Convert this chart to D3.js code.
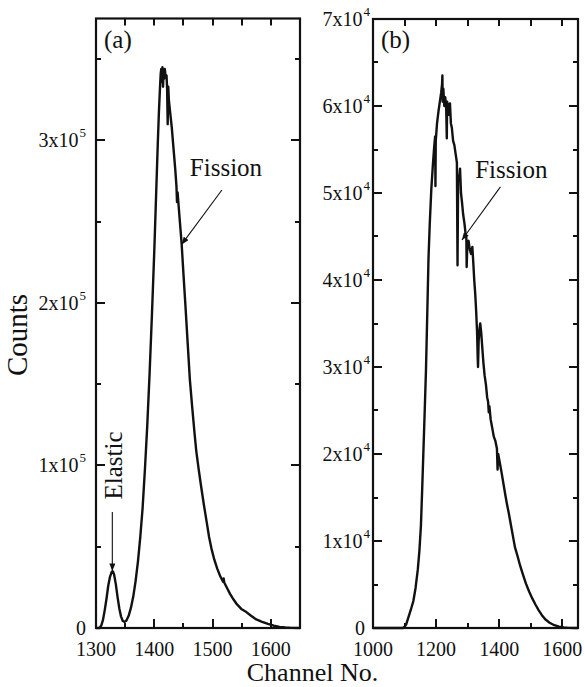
<!doctype html>
<html lang="en">
<head>
    <meta charset="UTF-8">
    <title>Counts vs Channel</title>
    <script src="https://d3js.org/d3.v7.min.js"></script>
    <style>
        body { margin: 0; background: white; }
        svg { display: block; }
        text { font-family: "Liberation Serif", "Times New Roman", serif; fill: #111; }
    </style>
</head>
<body>
    <svg width="585" height="687"></svg>

    <script>
        // panel (a)
        const chanA = [1300, 1306, 1309, 1312, 1315, 1318, 1321, 1324, 1327, 1329, 1331, 1334, 1337, 1340, 1343,
            1346, 1349, 1352, 1356, 1360, 1364, 1368, 1372, 1376, 1380, 1384, 1388, 1392, 1396, 1400, 1403, 1406,
            1408, 1410, 1411, 1412, 1413, 1414, 1415, 1416, 1417, 1418, 1419, 1420, 1421, 1422, 1423, 1424, 1425,
            1427, 1430, 1433, 1436, 1438, 1439, 1440, 1443, 1447, 1450, 1453, 1456, 1458, 1461, 1465, 1469, 1472,
            1476, 1480, 1485, 1490, 1494, 1498, 1503, 1508, 1513, 1518, 1519, 1520, 1525, 1530, 1536, 1542, 1550,
            1558, 1566, 1575, 1585, 1595, 1605, 1615, 1625, 1635, 1650];
        const countsA = [0, 0, 1500, 5000, 11000, 18000, 26000, 31500, 34500, 34800, 33000, 27000, 19000, 12000, 7000,
            4300, 3800, 4500, 7500, 12500, 19500, 29000, 41000, 56000, 74000, 98000, 125000, 157000, 193000, 232000, 265000, 298000,
            318000, 334000, 341000, 344000, 336000, 345000, 333000, 343000, 338000, 344000, 341000, 339000, 340000, 332000, 310000, 333000, 325000,
            318000, 308000, 295000, 282000, 272000, 262000, 268000, 254000, 236000, 218000, 201000, 183000, 171000, 153000, 136000, 120000, 109000,
            98000, 88000, 76000, 65000, 56000, 49000, 42000, 36500, 32000, 28500, 30500, 28000, 24500, 21000, 17500, 14500, 11500,
            9800, 7500, 5300, 3800, 2500, 1400, 700, 300, 100, 0];

        // panel (b)
        const chanB = [1000, 1095, 1100, 1105, 1112, 1120, 1128, 1135, 1142, 1147, 1152, 1156, 1160, 1164, 1168, 1172,
            1176, 1180, 1185, 1190, 1194, 1197, 1198, 1199, 1203, 1208, 1212, 1216, 1219, 1220, 1221, 1223, 1226, 1229,
            1232, 1234, 1235, 1238, 1241, 1244, 1247, 1250, 1254, 1258, 1262, 1266, 1268, 1270, 1273, 1276, 1279, 1282,
            1286, 1290, 1293, 1296, 1297, 1299, 1303, 1307, 1311, 1315, 1318, 1321, 1324, 1327, 1330, 1332, 1333, 1335,
            1338, 1340, 1343, 1346, 1350, 1354, 1358, 1362, 1365, 1367, 1369, 1373, 1378, 1383, 1388, 1393, 1395, 1397,
            1402, 1408, 1414, 1420, 1425, 1430, 1435, 1440, 1445, 1450, 1458, 1467, 1475, 1485, 1495, 1505, 1515, 1525,
            1535, 1546, 1560, 1575, 1590, 1605, 1620, 1640, 1650];
        const countsB = [0, 0, 150, 400, 1200, 2100, 3100, 4600, 6700, 8800, 11800, 16000, 20500, 25000, 29700, 36000,
            42500, 46500, 50500, 53300, 55300, 56500, 50800, 56000, 58000, 59500, 60500, 61500, 62500, 63500, 60500, 62000, 60000, 61000,
            60000, 56300, 60500, 60000, 59000, 60300, 58000, 57500, 56000, 55500, 54500, 53500, 41700, 52000, 51500, 52800, 50000, 49000,
            47500, 46500, 45500, 44800, 41500, 44000, 44500, 43500, 43000, 43800, 42000, 40000, 38500, 36500, 34000, 31000, 30000, 33000,
            34500, 35000, 34000, 32500, 30500, 29000, 28000, 26500, 26000, 24800, 25500, 24000, 23000, 22000, 21500, 20600, 18200, 20000,
            19000, 17800, 16500, 15200, 14200, 13300, 12300, 11300, 10300, 9300, 8300, 7100, 6200, 5100, 4200, 3400, 2700, 2050,
            1500, 1000, 600, 320, 150, 60, 20, 0, 0];

        // ticks
        const xTicksA = [1300, 1400, 1500, 1600];
        const xMinorA = [1350, 1450, 1550];
        const yTicksA = [0, 100000, 200000, 300000];
        const yLabelsA = ['0', '1x10^5', '2x10^5', '3x10^5'];
        const yMinorA = [50000, 150000, 250000, 350000];

        const xTicksB = [1000, 1200, 1400, 1600];
        const xMinorB = [1100, 1300, 1500];
        const yTicksB = [0, 10000, 20000, 30000, 40000, 50000, 60000, 70000];
        const yLabelsB = ['0', '1x10^4', '2x10^4', '3x10^4', '4x10^4', '5x10^4', '6x10^4', '7x10^4'];
        const yMinorB = [5000, 15000, 25000, 35000, 45000, 55000, 65000];

        const svg = d3.select('svg');

        svg.append('defs').append('marker')
            .attr('id', 'head')
            .attr('viewBox', '0 -4 10 8')
            .attr('refX', 10)
            .attr('refY', 0)
            .attr('markerUnits', 'userSpaceOnUse')
            .attr('markerWidth', 8)
            .attr('markerHeight', 6)
            .attr('orient', 'auto')
            .append('path')
            .attr('d', 'M0,-4L10,0L0,4Z')
            .attr('fill', '#111');

        const frameBottom = 628;

        function drawPanel(p) {
            const x = d3.scaleLinear().domain(p.xDomain).range([p.left, p.right]);
            const y = d3.scaleLinear().domain(p.yDomain).range([frameBottom, p.top]);
            const g = svg.append('g');

            // data line
            const pts = p.chan.map((c, i) => [c, p.counts[i]]);
            g.append('path')
                .datum(pts)
                .attr('fill', 'none')
                .attr('stroke', '#111')
                .attr('stroke-width', 2.4)
                .attr('stroke-linejoin', 'round')
                .attr('d', d3.line().x(d => x(d[0])).y(d => y(d[1])));

            // frame
            g.append('rect')
                .attr('x', p.left)
                .attr('y', p.top)
                .attr('width', p.right - p.left)
                .attr('height', frameBottom - p.top)
                .attr('fill', 'none')
                .attr('stroke', '#111')
                .attr('stroke-width', 2.2);

            // inward ticks on all four sides
            const tickPath = d3.path();
            p.xTicks.map(v => [v, 9]).concat(p.xMinor.map(v => [v, 5])).forEach(([v, len]) => {
                const px = Math.round(x(v));
                tickPath.moveTo(px, frameBottom);
                tickPath.lineTo(px, frameBottom - len);
                tickPath.moveTo(px, p.top);
                tickPath.lineTo(px, p.top + 7);
            });
            p.yTicks.map(v => [v, 9]).concat(p.yMinor.map(v => [v, 5])).forEach(([v, len]) => {
                const py = Math.round(y(v));
                tickPath.moveTo(p.left, py);
                tickPath.lineTo(p.left + len, py);
                tickPath.moveTo(p.right, py);
                tickPath.lineTo(p.right - len, py);
            });
            g.append('path')
                .attr('d', tickPath.toString())
                .attr('fill', 'none')
                .attr('stroke', '#111')
                .attr('stroke-width', 2);

            // x labels
            g.selectAll('.xl')
                .data(p.xTicks)
                .enter()
                .append('text')
                .attr('x', d => x(d))
                .attr('y', frameBottom + 28)
                .attr('text-anchor', 'middle')
                .attr('font-size', 20)
                .text(d => d);

            // y labels with superscript exponent
            p.yTicks.forEach((v, i) => {
                const parts = p.yLabels[i].split('^');
                const t = g.append('text')
                    .attr('x', p.left - (parts.length > 1 ? p.padExp : p.padZero))
                    .attr('y', y(v) + 7)
                    .attr('text-anchor', 'end')
                    .attr('font-size', 20);
                t.append('tspan').text(parts[0]);
                if (parts.length > 1) {
                    t.append('tspan')
                        .attr('font-size', 13)
                        .attr('dy', -10)
                        .attr('dx', 1)
                        .text(parts[1]);
                }
            });

            g.append('text')
                .attr('x', p.left + 8)
                .attr('y', p.top + 29)
                .attr('font-size', 25)
                .text(p.tag);

            p.notes.forEach(n => {
                if (n.rotate) {
                    g.append('text')
                        .attr('transform', `translate(${x(n.tx)},${y(n.ty)}) rotate(-90)`)
                        .attr('text-anchor', 'middle')
                        .attr('font-size', 25)
                        .text(n.text);
                } else {
                    g.append('text')
                        .attr('x', x(n.tx))
                        .attr('y', y(n.ty))
                        .attr('font-size', 25)
                        .text(n.text);
                }
                g.append('line')
                    .attr('x1', x(n.from[0])).attr('y1', y(n.from[1]))
                    .attr('x2', x(n.to[0])).attr('y2', y(n.to[1]))
                    .attr('stroke', '#111')
                    .attr('stroke-width', 1.1)
                    .attr('marker-end', 'url(#head)');
            });
        }

        drawPanel({
            left: 96, right: 300, top: 18.5,
            xDomain: [1300, 1650], yDomain: [0, 375000],
            xTicks: xTicksA, xMinor: xMinorA, yTicks: yTicksA, yLabels: yLabelsA, yMinor: yMinorA,
            padExp: 10, padZero: 10,
            chan: chanA, counts: countsA, tag: '(a)',
            notes: [
                { text: 'Fission', tx: 1461, ty: 278000, from: [1516, 269500], to: [1447, 236000] },
                { text: 'Elastic', tx: 1344.5, ty: 100000, rotate: true, from: [1328, 71400], to: [1328, 35000] }
            ]
        });

        drawPanel({
            left: 373, right: 578, top: 19,
            xDomain: [1000, 1650], yDomain: [0, 70000],
            xTicks: xTicksB, xMinor: xMinorB, yTicks: yTicksB, yLabels: yLabelsB, yMinor: yMinorB,
            padExp: 3, padZero: 8,
            chan: chanB, counts: countsB, tag: '(b)',
            notes: [
                { text: 'Fission', tx: 1324, ty: 51700, from: [1404, 50700], to: [1282, 44600] }
            ]
        });

        svg.append('text')
            .attr('transform', 'translate(27,335) rotate(-90)')
            .attr('text-anchor', 'middle')
            .attr('font-size', 29)
            .text('Counts');

        svg.append('text')
            .attr('x', 312.5)
            .attr('y', 681)
            .attr('text-anchor', 'middle')
            .attr('font-size', 26)
            .text('Channel No.');
    </script>
</body>
</html>
